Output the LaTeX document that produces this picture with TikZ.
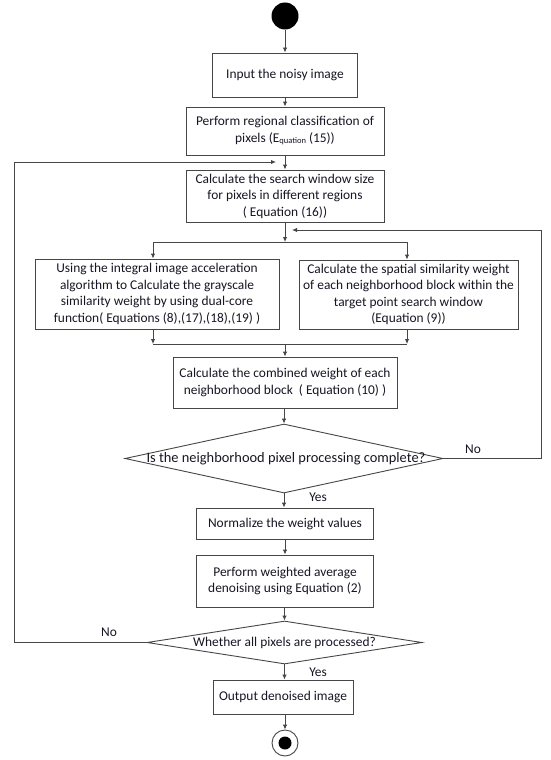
\documentclass[tikz,border=0pt]{standalone}
\usepackage{fontspec}
\setmainfont{Carlito}
\usetikzlibrary{shapes.geometric,arrows.meta}
\definecolor{ink}{RGB}{22,22,36}
\definecolor{edge}{RGB}{70,70,70}
\begin{document}
\begin{tikzpicture}[x=1pt,y=-1pt,
  line/.style={draw=edge, line width=0.9pt},
  arr/.style={line, -{Latex[length=5pt,width=4.5pt]}},
  box/.style={draw=edge, line width=0.9pt, rectangle, inner sep=0pt, align=center, text=ink},
  dia/.style={draw=edge, line width=0.9pt, diamond, inner sep=0pt},
  lbl/.style={inner sep=0pt, text=ink},
  font=\fontsize{13.4}{16.5}\selectfont]
\useasboundingbox (0,0) rectangle (550,760);
\fill[white] (0,0) rectangle (550,760);

\node[circle, fill=black, minimum size=27pt, inner sep=0pt] (start) at (285,16) {};
\node[box, minimum width=145pt, minimum height=44pt] (b1) at (285,75) {Input the noisy image};
\node[box, minimum width=198pt, minimum height=48pt] (b2) at (285,131) {Perform regional classification of\\pixels (E\raisebox{-1.5pt}{\fontsize{8.5}{9}\selectfont quation} (15))};
\node[box, minimum width=198pt, minimum height=52pt] (b3) at (285,196) {Calculate the search window size\\for pixels in different regions\\( Equation (16))};
\node[box, minimum width=244pt, minimum height=70pt] (bl) at (157,294) {Using the integral image acceleration\\algorithm to Calculate the grayscale\\similarity weight by using dual-core\\function( Equations (8),(17),(18),(19) )};
\node[box, minimum width=219pt, minimum height=69pt] (br) at (408.5,294.5) {Calculate the spatial similarity weight\\of each neighborhood block within the\\target point search window\\(Equation (9))};
\node[box, minimum width=224pt, minimum height=51pt] (b4) at (285,382.5) {Calculate the combined weight of each\\neighborhood block\ \ ( Equation (10) )};
\node[dia, minimum width=318pt, minimum height=69pt, label={[lbl, font=\fontsize{14.4}{16.5}\selectfont, xshift=2pt]center:Is the neighborhood pixel processing complete?}] (d1) at (284,458.5) {};
\node[box, minimum width=177pt, minimum height=31pt] (b5) at (285,523.5) {Normalize the weight values};
\node[box, minimum width=177pt, minimum height=52pt] (b6) at (285,581) {Perform weighted average\\denoising using Equation (2)};
\node[dia, minimum width=275pt, minimum height=43pt, label={[lbl]center:Whether all pixels are processed?}] (d2) at (284.5,642.5) {};
\node[box, minimum width=140pt, minimum height=34pt] (b7) at (283,697) {Output denoised image};
\node[circle, draw=edge, line width=0.9pt, fill=white, minimum size=26pt, inner sep=0pt] (end) at (285,743) {};
\node[circle, fill=black, minimum size=13pt, inner sep=0pt] (endin) at (end) {};

\coordinate (jl) at (276,162);
\coordinate (jr) at (292,230);
\coordinate (sp) at (285,242);
\coordinate (sl) at (153,242);
\coordinate (sr) at (407,242);
\coordinate (ml) at (153,344);
\coordinate (mr) at (407,344);
\coordinate (mc) at (285,344);
\coordinate (rl) at (541,458.5);
\coordinate (ll) at (14,642.5);

\draw[arr] (start) -- (b1);
\draw[arr] (b1) -- (b2);
\draw[arr] (b2.south -| 285,0) -- (b3.north -| 285,0);
\draw[arr] (b3.south -| 285,0) -- (sp);
\draw[line] (sl) -- (sr);
\draw[arr] (sl) -- (sl |- bl.north);
\draw[arr] (sr) -- (sr |- br.north);
\draw[arr] (ml |- bl.south) -- (ml);
\draw[arr] (mr |- br.south) -- (mr);
\draw[line] (ml) -- (mr);
\draw[arr] (mc) -- (mc |- b4.north);
\draw[arr] (b4.south -| 284,0) -- (d1.north);
\draw[arr] (d1.south) -- (d1.south |- b5.north);
\draw[arr] (b5.south -| 285,0) -- (b6.north -| 285,0);
\draw[arr] (b6.south -| 284.5,0) -- (d2.north);
\draw[arr] (d2.south) -- (d2.south |- b7.north);
\draw[arr] (b7.south -| 285,0) -- (end.north);

\draw[arr] (d1.east) -- (rl) -- (rl |- jr) -- (jr);
\draw[arr] (d2.west) -- (ll) -- (ll |- jl) -- (jl);

\node[lbl] (no1) at (473,449) {No};
\node[lbl] (yes1) at (318,497) {Yes};
\node[lbl] (no2) at (109,632) {No};
\node[lbl] (yes2) at (318,672) {Yes};
\end{tikzpicture}
\end{document}
